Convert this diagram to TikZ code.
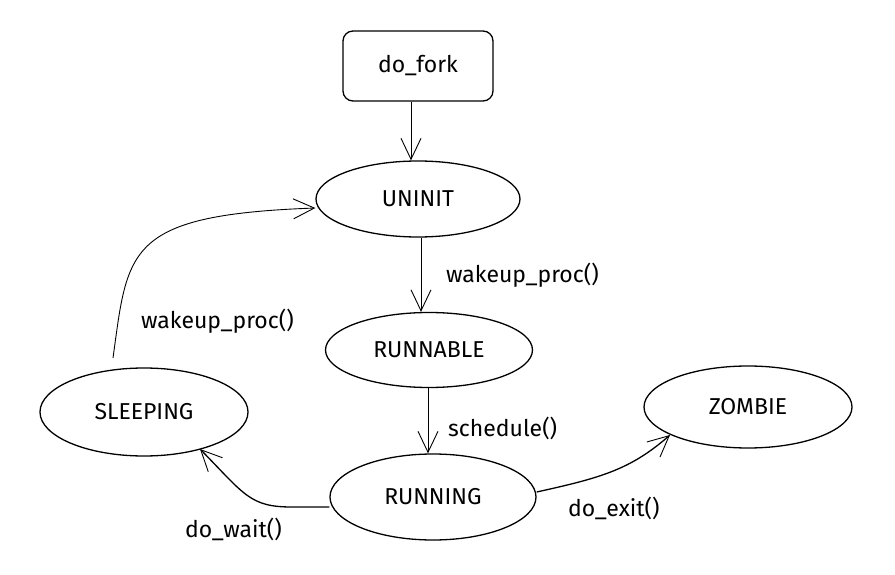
\documentclass[tikz,border=0pt]{standalone}
\usepackage{fontspec}
\setmainfont{Fira Sans}
\usetikzlibrary{arrows.meta,shapes.geometric}
\begin{document}
\begin{tikzpicture}[x=1pt,y=-1pt,
  state/.style={draw,ellipse,line width=1.3pt,inner sep=0pt,font=\fontsize{23}{27}\selectfont},
  conn/.style={line width=0.9pt,-{Straight Barb[length=21pt,width=20pt,line width=0.9pt]}},
  lbl/.style={font=\fontsize{23}{27}\selectfont,inner sep=0pt,anchor=west}]
\useasboundingbox (0,0) rectangle (895,575);
\node[draw,rounded corners=10pt,line width=1.3pt,minimum width=150pt,minimum height=70pt,font=\fontsize{23}{27}\selectfont] (fork) at (418,66) {do\_fork};
\node[state,minimum width=204pt,minimum height=76pt] (uninit) at (418,199) {UNINIT};
\node[state,minimum width=207pt,minimum height=75pt] (runnable) at (429,350) {RUNNABLE};
\node[state,minimum width=208pt,minimum height=88pt] (sleeping) at (144,412) {SLEEPING};
\node[state,minimum width=208pt,minimum height=82pt] (zombie) at (748,407) {ZOMBIE};
\node[state,minimum width=206pt,minimum height=86pt] (running) at (433,497) {RUNNING};
\draw[conn] (fork.south -| 411,0) -- (uninit.north -| 411,0);
\draw[conn] (uninit.south -| 421,0) -- (runnable.north -| 421,0);
\draw[conn] (runnable.south -| 428,0) -- (running.north -| 428,0);
\coordinate (sl) at (113,358);
\draw[conn] (sl) .. controls (128,250) and (125,215) .. (uninit.west |- 0,208);
\draw[conn,line width=1.3pt] (running.west |- 0,507) -- (292,507) .. controls (250,507) and (245,495) .. (200,449);
\draw[conn,line width=1.3pt] (running.east |- 0,492) .. controls (600,478) and (630,470) .. (670,435);
\node[lbl] (l1) at (446,275) {wakeup\_proc()};
\node[lbl] (l2) at (141,321) {wakeup\_proc()};
\node[lbl] (l3) at (448,428) {schedule()};
\node[lbl] (l4) at (185,529) {do\_wait()};
\node[lbl] (l5) at (568,508) {do\_exit()};
\end{tikzpicture}
\end{document}
